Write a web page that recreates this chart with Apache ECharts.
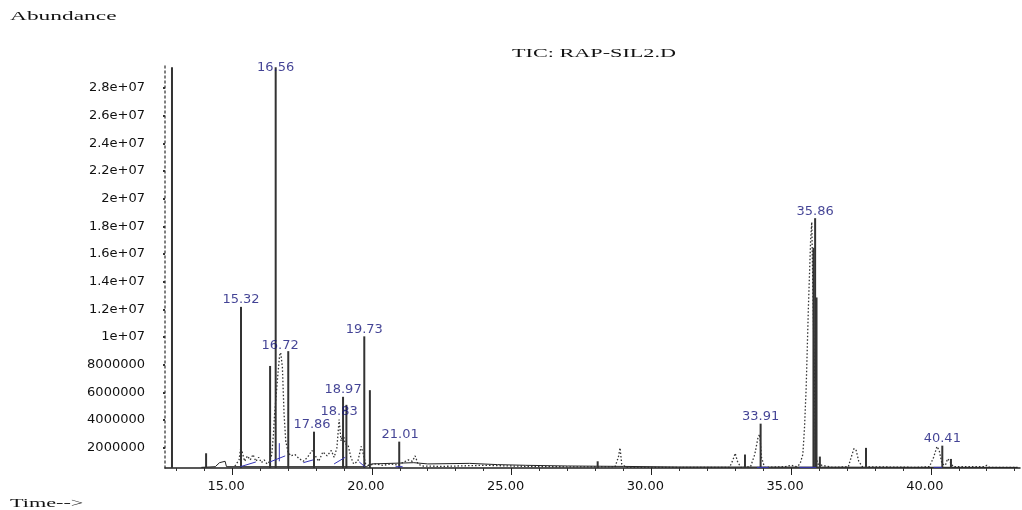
<!DOCTYPE html>
<html lang="en">
<head>
<meta charset="UTF-8">
<title>TIC: RAP-SIL2.D</title>
<script src="https://cdn.jsdelivr.net/npm/echarts@6/dist/echarts.min.js"></script>
<style>
    body, html {
        margin: 0;
        padding: 0;
        background: #ffffff;
    }
    #chart {
        width: 1022px;
        height: 510px;
    }
</style>
</head>
<body>
<div id="chart"></div>
<script>
    // axis ticks
    const xTickValues = [15, 20, 25, 30, 35, 40];
    const xTickLabels = ['15.00', '20.00', '25.00', '30.00', '35.00', '40.00'];
    const xMinorTicks = [13, 14, 16, 17, 18, 19, 21, 22, 23, 24, 26, 27, 28, 29, 31, 32, 33, 34, 36, 37, 38, 39, 41, 42, 43];
    const yTickValues = [2e6, 4e6, 6e6, 8e6, 1e7, 1.2e7, 1.4e7, 1.6e7, 1.8e7, 2e7, 2.2e7, 2.4e7, 2.6e7, 2.8e7];
    const yTickLabels = ['2000000', '4000000', '6000000', '8000000', '1e+07', '1.2e+07', '1.4e+07',
        '1.6e+07', '1.8e+07', '2e+07', '2.2e+07', '2.4e+07', '2.6e+07', '2.8e+07'];

    // TIC trace (dotted)
    const ticTimes = [15.10, 15.25, 15.30, 15.36, 15.45, 15.55, 15.65, 15.75, 15.85, 15.95, 16.05, 16.15, 16.25, 16.35,
        16.42, 16.48, 16.52, 16.58, 16.64, 16.70, 16.74, 16.80, 16.86, 16.92, 17.00, 17.10, 17.25, 17.40, 17.55,
        17.70, 17.86, 17.95, 18.10, 18.25, 18.40, 18.55, 18.65, 18.75, 18.83, 18.90, 18.97, 19.05, 19.15, 19.25,
        19.35, 19.50, 19.62, 19.70, 19.78, 19.90, 20.10, 20.40, 20.70, 20.95, 21.10, 21.30, 21.45, 21.55, 21.65,
        21.80, 22.50, 24.00, 26.00, 28.70, 28.82, 28.88, 28.94, 29.10, 31.00, 32.80, 32.92, 33.00, 33.08, 33.20,
        33.55, 33.70, 33.82, 33.88, 33.94, 34.05, 34.80, 35.00, 35.20, 35.32, 35.42, 35.48, 35.54, 35.58, 35.62,
        35.66, 35.70, 35.74, 35.88, 35.95, 36.10, 36.50, 37.05, 37.15, 37.25, 37.33, 37.42, 37.55, 39.50, 39.95,
        40.10, 40.22, 40.30, 40.40, 40.52, 40.60, 40.68, 40.80, 41.90, 42.00, 42.10, 43.10];
    const ticValues = [0.68e6, 1.12e6, 1.89e6, 1.70e6, 1.02e6, 1.41e6, 1.12e6, 1.51e6, 1.02e6, 1.31e6, 0.92e6, 1.12e6, 0.83e6, 1.02e6,
        1.51e6, 2.96e6, 4.42e6, 5.87e6, 7.33e6, 8.69e6, 8.88e6, 7.81e6, 4.42e6, 2.48e6, 1.70e6, 1.41e6, 1.51e6, 1.21e6, 1.02e6,
        1.31e6, 1.80e6, 1.51e6, 1.02e6, 1.70e6, 1.41e6, 1.80e6, 1.31e6, 1.99e6, 4.03e6, 2.48e6, 3.06e6, 2.28e6, 2.19e6, 1.31e6,
        0.83e6, 1.02e6, 2.09e6, 1.51e6, 0.83e6, 0.73e6, 0.83e6, 0.73e6, 0.83e6, 0.73e6, 0.92e6, 1.12e6, 1.02e6, 1.41e6, 0.83e6,
        0.68e6, 0.65e6, 0.73e6, 0.63e6, 0.61e6, 1.31e6, 1.99e6, 0.83e6, 0.58e6, 0.58e6, 0.58e6, 1.12e6, 1.60e6, 1.02e6, 0.58e6,
        0.63e6, 1.51e6, 2.77e6, 2.96e6, 1.31e6, 0.58e6, 0.63e6, 0.73e6, 0.63e6, 0.83e6, 1.51e6, 3.45e6, 6.36e6, 9.27e6, 12.18e6,
        14.61e6, 17.04e6, 18.30e6, 1.51e6, 0.83e6, 0.73e6, 0.58e6, 0.63e6, 1.31e6, 1.94e6, 1.80e6, 1.02e6, 0.63e6, 0.58e6, 0.63e6,
        1.31e6, 2.09e6, 1.80e6, 0.83e6, 0.73e6, 1.21e6, 1.02e6, 0.63e6, 0.63e6, 0.73e6, 0.58e6, 0.58e6];

    // solid baseline trace
    const baseTimes = [13.90, 14.40, 14.55, 14.75, 14.80, 15.30, 19.80, 20.00, 21.50, 22.00, 23.50, 24.50, 25.50, 27.00, 29.00, 31.00, 43.10];
    const baseValues = [0.58e6, 0.63e6, 0.92e6, 1.02e6, 0.63e6, 0.63e6, 0.63e6, 0.83e6, 0.92e6, 0.83e6, 0.87e6, 0.78e6, 0.73e6, 0.68e6, 0.65e6, 0.61e6, 0.58e6];

    // solid peak sticks
    const stickTimes = [12.85, 14.07, 15.32, 16.36, 16.56, 17.01, 17.93, 18.97, 19.09, 19.73, 19.93, 20.98,
        28.08, 33.35, 33.91, 35.80, 35.86, 35.91, 36.03, 37.68, 40.41, 40.72];
    const stickHeights = [2.95e7, 1.60e6, 1.218e7, 7.91e6, 2.95e7, 8.98e6, 3.16e6, 5.68e6, 5.10e6, 1.005e7, 6.16e6, 2.44e6,
        1.02e6, 1.51e6, 3.74e6, 1.645e7, 1.859e7, 1.286e7, 1.36e6, 1.99e6, 2.15e6, 1.19e6];

    // labelled peaks
    const peakTimes = [15.32, 16.56, 16.72, 17.86, 18.83, 18.97, 19.73, 21.01, 33.91, 35.86, 40.41];
    const peakHeights = [1.218e7, 2.90e7, 8.88e6, 3.16e6, 4.13e6, 5.68e6, 1.005e7, 2.44e6, 3.74e6, 1.859e7, 2.15e6];

    // integration baselines: [t start, v start, t end, v end]
    const integrationLines = [
        [15.30, 0.63e6, 15.85, 0.97e6],
        [16.35, 0.97e6, 16.90, 1.41e6],
        [16.69, 1.02e6, 16.69, 2.33e6],
        [17.55, 0.92e6, 17.90, 1.12e6],
        [18.65, 0.83e6, 19.05, 1.31e6],
        [19.55, 0.97e6, 19.75, 0.63e6],
        [20.85, 0.63e6, 21.10, 0.63e6],
        [33.78, 0.58e6, 34.20, 0.58e6],
        [35.30, 0.58e6, 35.90, 0.58e6],
        [40.10, 0.58e6, 40.40, 0.58e6]
    ];

    const zip = (a, b) => a.map((v, i) => [v, b[i]]);
    const integrationData = [];
    integrationLines.forEach(s => {
        integrationData.push([s[0], s[1]], [s[2], s[3]], null);
    });

    const xMin = 12.6, xMax = 43.19;
    const yMin = 5.35e5, yMax = 2.966e7;
    const labelFont = 'DejaVu Sans';
    const serifFont = '"Liberation Serif", "DejaVu Serif", serif';

    const chart = echarts.init(document.getElementById('chart'));
    chart.setOption({
        animation: false,
        backgroundColor: '#ffffff',
        grid: { left: 165, right: 2, top: 65, bottom: 42 },
        xAxis: [{
            type: 'value',
            min: xMin,
            max: xMax,
            splitLine: { show: false },
            axisLine: { lineStyle: { color: '#222', width: 1.5 } },
            axisTick: { customValues: xMinorTicks, length: 3, lineStyle: { color: '#333' } },
            axisLabel: {
                customValues: xTickValues,
                // trailing spacer nudges the text a little left of its tick, as in the original
                formatter: v => '{t|' + (xTickLabels[xTickValues.indexOf(v)] || v.toFixed(2)) + '}{s|}',
                margin: 12,
                rich: {
                    t: { color: '#111', fontFamily: labelFont, fontSize: 13 },
                    s: { width: 12 }
                }
            }
        }, {
            type: 'value',
            position: 'bottom',
            min: xMin,
            max: xMax,
            splitLine: { show: false },
            axisLine: { show: false },
            axisTick: { customValues: xTickValues, length: 7, lineStyle: { color: '#222' } },
            axisLabel: { show: false }
        }],
        yAxis: {
            type: 'value',
            min: yMin,
            max: yMax,
            splitLine: { show: false },
            axisLine: { lineStyle: { color: '#555', width: 1.5, type: [2, 3] } },
            axisTick: { customValues: yTickValues, length: 2, lineStyle: { color: '#333', width: 2 } },
            axisLabel: {
                customValues: yTickValues,
                formatter: v => yTickLabels[yTickValues.indexOf(v)] || String(v),
                margin: 20,
                color: '#111',
                fontFamily: labelFont,
                fontSize: 13
            }
        },
        graphic: [
            { type: 'text', x: 10, y: 17, scaleX: 1.95,
              style: { text: 'Abundance', fill: '#111', font: '12px ' + serifFont, verticalAlign: 'middle' } },
            { type: 'text', x: 512, y: 54, scaleX: 1.85,
              style: { text: 'TIC: RAP-SIL2.D', fill: '#111', font: '12px ' + serifFont, verticalAlign: 'middle' } },
            { type: 'text', x: 10, y: 504, scaleX: 1.85,
              style: { text: 'Time-->', fill: '#111', font: '12px ' + serifFont, verticalAlign: 'middle' } }
        ],
        series: [{
            name: 'TIC',
            type: 'line',
            data: zip(ticTimes, ticValues),
            symbol: 'none',
            lineStyle: { color: '#333', width: 1.3, type: [1.5, 2] },
            z: 2
        }, {
            name: 'baseline',
            type: 'line',
            data: zip(baseTimes, baseValues),
            symbol: 'none',
            lineStyle: { color: '#222', width: 1 },
            z: 2
        }, {
            name: 'peaks',
            type: 'bar',
            data: zip(stickTimes, stickHeights),
            barWidth: 2,
            itemStyle: { color: '#333' },
            z: 3
        }, {
            name: 'integration',
            type: 'line',
            data: integrationData,
            connectNulls: false,
            symbol: 'none',
            lineStyle: { color: '#3535b5', width: 1 },
            z: 4
        }, {
            name: 'labels',
            type: 'scatter',
            data: zip(peakTimes, peakHeights),
            symbolSize: 1,
            itemStyle: { color: 'transparent' },
            label: {
                show: true,
                position: 'top',
                distance: 0,
                formatter: p => p.value[0].toFixed(2),
                color: '#14147a',
                fontFamily: labelFont,
                fontSize: 13
            },
            z: 5
        }]
    });
</script>
</body>
</html>
